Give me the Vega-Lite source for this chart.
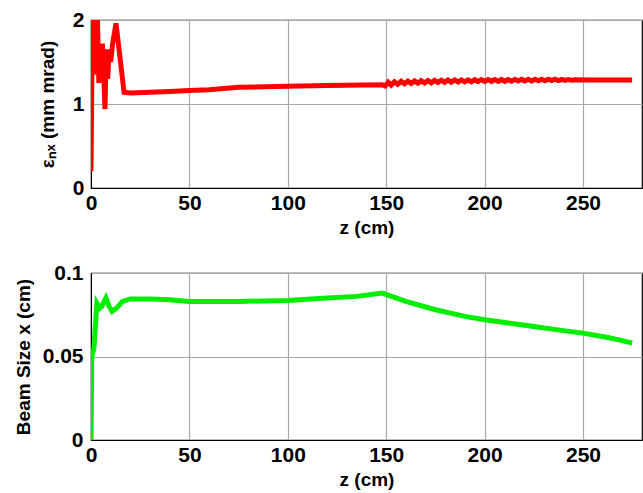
{
  "$schema": "https://vega.github.io/schema/vega-lite/v6.json",
  "padding": {"left": 13, "top": 8, "right": 0, "bottom": 0},
  "background": "white",
  "spacing": 23,
  "datasets": {
    "emit": [
      {"z": 0, "v": 0.2}, {"z": 0.7, "v": 2.0}, {"z": 1.3, "v": 1.35}, {"z": 2.0, "v": 1.55},
      {"z": 2.7, "v": 2.0}, {"z": 3.3, "v": 2.0}, {"z": 4.0, "v": 1.25}, {"z": 4.6, "v": 1.72},
      {"z": 5.2, "v": 1.3}, {"z": 5.8, "v": 1.72}, {"z": 6.4, "v": 1.4}, {"z": 7.1, "v": 0.94},
      {"z": 7.8, "v": 1.65}, {"z": 8.5, "v": 1.3}, {"z": 9.2, "v": 1.65}, {"z": 10.0, "v": 1.5},
      {"z": 11.0, "v": 1.72}, {"z": 12.7, "v": 1.96}, {"z": 14.0, "v": 1.7}, {"z": 16.8, "v": 1.14},
      {"z": 20, "v": 1.13}, {"z": 30, "v": 1.14}, {"z": 40, "v": 1.15}, {"z": 50, "v": 1.16},
      {"z": 60, "v": 1.17}, {"z": 75, "v": 1.2}, {"z": 100, "v": 1.21}, {"z": 120, "v": 1.22},
      {"z": 148, "v": 1.23},
      {"z": 149.5, "v": 1.215}, {"z": 151, "v": 1.26}, {"z": 152.5, "v": 1.225}, {"z": 154.2, "v": 1.265},
      {"z": 155.9, "v": 1.235}, {"z": 157.6, "v": 1.27}, {"z": 159.3, "v": 1.24}, {"z": 161, "v": 1.272},
      {"z": 162.7, "v": 1.245}, {"z": 164.4, "v": 1.275}, {"z": 166.1, "v": 1.248}, {"z": 167.8, "v": 1.278},
      {"z": 169.5, "v": 1.25}, {"z": 171.2, "v": 1.28}, {"z": 172.9, "v": 1.252}, {"z": 174.6, "v": 1.282},
      {"z": 176.3, "v": 1.255}, {"z": 178, "v": 1.283}, {"z": 179.7, "v": 1.257}, {"z": 181.4, "v": 1.285},
      {"z": 183.1, "v": 1.26}, {"z": 184.8, "v": 1.286}, {"z": 186.5, "v": 1.262}, {"z": 188.2, "v": 1.287},
      {"z": 189.9, "v": 1.263}, {"z": 191.6, "v": 1.288}, {"z": 193.3, "v": 1.265}, {"z": 195, "v": 1.289},
      {"z": 196.7, "v": 1.266}, {"z": 198.4, "v": 1.29}, {"z": 200.1, "v": 1.268}, {"z": 201.8, "v": 1.29},
      {"z": 203.5, "v": 1.268}, {"z": 205.2, "v": 1.291}, {"z": 206.9, "v": 1.27}, {"z": 208.6, "v": 1.292},
      {"z": 210.3, "v": 1.27}, {"z": 212, "v": 1.292}, {"z": 213.7, "v": 1.272}, {"z": 215.4, "v": 1.293},
      {"z": 217.1, "v": 1.273}, {"z": 218.8, "v": 1.293}, {"z": 220.5, "v": 1.274}, {"z": 222.2, "v": 1.294},
      {"z": 223.9, "v": 1.275}, {"z": 225.6, "v": 1.294}, {"z": 227.3, "v": 1.276}, {"z": 229, "v": 1.294},
      {"z": 230.7, "v": 1.277}, {"z": 232.4, "v": 1.294}, {"z": 234.1, "v": 1.278}, {"z": 235.8, "v": 1.294},
      {"z": 237.5, "v": 1.279}, {"z": 239.2, "v": 1.293}, {"z": 240.9, "v": 1.28}, {"z": 242.6, "v": 1.292},
      {"z": 244.3, "v": 1.282}, {"z": 246, "v": 1.289},
      {"z": 255, "v": 1.287}, {"z": 265, "v": 1.287}, {"z": 275, "v": 1.287}
    ],
    "beam": [
      {"z": 0, "v": 0.0}, {"z": 0.4, "v": 0.05}, {"z": 1.5, "v": 0.055}, {"z": 3.0, "v": 0.082},
      {"z": 4.5, "v": 0.079}, {"z": 5.5, "v": 0.08}, {"z": 7.6, "v": 0.085}, {"z": 9.2, "v": 0.08},
      {"z": 10.7, "v": 0.077}, {"z": 13, "v": 0.079}, {"z": 16, "v": 0.083}, {"z": 20, "v": 0.0845},
      {"z": 30, "v": 0.0845}, {"z": 40, "v": 0.084}, {"z": 50, "v": 0.083}, {"z": 75, "v": 0.083},
      {"z": 100, "v": 0.0835}, {"z": 120, "v": 0.085}, {"z": 135, "v": 0.086}, {"z": 148, "v": 0.088},
      {"z": 160, "v": 0.083}, {"z": 175, "v": 0.078}, {"z": 190, "v": 0.074}, {"z": 200, "v": 0.072},
      {"z": 212, "v": 0.07}, {"z": 225, "v": 0.068}, {"z": 240, "v": 0.0655}, {"z": 250, "v": 0.064},
      {"z": 262, "v": 0.0615}, {"z": 270, "v": 0.0595}, {"z": 275, "v": 0.058}
    ]
  },
  "config": {
    "view": {"stroke": "black", "strokeWidth": 1.2},
    "font": "Liberation Sans",
    "axis": {
      "labelFont": "Liberation Sans",
      "labelFontWeight": "bold",
      "labelFontSize": 21,
      "labelColor": "black",
      "titleFont": "Liberation Sans",
      "titleFontWeight": "bold",
      "titleFontSize": 19,
      "titleColor": "black",
      "domainColor": "black",
      "ticks": false,
      "grid": true,
      "gridColor": "#a8a8a8",
      "gridWidth": 1.2,
      "gridOpacity": 1
    }
  },
  "vconcat": [
    {
      "width": 551,
      "height": 168,
      "data": {"name": "emit"},
      "mark": {"type": "line", "color": "#ff0000", "strokeWidth": 5, "clip": true},
      "encoding": {
        "x": {"field": "z", "type": "quantitative", "scale": {"domain": [0, 280], "nice": false},
          "axis": {"values": [0, 50, 100, 150, 200, 250], "title": "z (cm)", "labelPadding": 4, "titlePadding": 5, "labelFlush": false}},
        "y": {"field": "v", "type": "quantitative", "scale": {"domain": [0, 2], "nice": false},
          "axis": {"values": [0, 1, 2], "labelExpr": "toString(datum.value)", "title": "εₙₓ (mm mrad)", "labelPadding": 7, "titlePadding": 15}}
      }
    },
    {
      "width": 551,
      "height": 167,
      "data": {"name": "beam"},
      "mark": {"type": "line", "color": "#00ee00", "strokeWidth": 5, "clip": true},
      "encoding": {
        "x": {"field": "z", "type": "quantitative", "scale": {"domain": [0, 280], "nice": false},
          "axis": {"values": [0, 50, 100, 150, 200, 250], "title": "z (cm)", "labelPadding": 4, "titlePadding": 5, "labelFlush": false}},
        "y": {"field": "v", "type": "quantitative", "scale": {"domain": [0, 0.1], "nice": false},
          "axis": {"values": [0, 0.05, 0.1], "labelExpr": "toString(datum.value)", "title": "Beam Size x (cm)", "labelPadding": 8, "titlePadding": 9}}
      }
    }
  ]
}
